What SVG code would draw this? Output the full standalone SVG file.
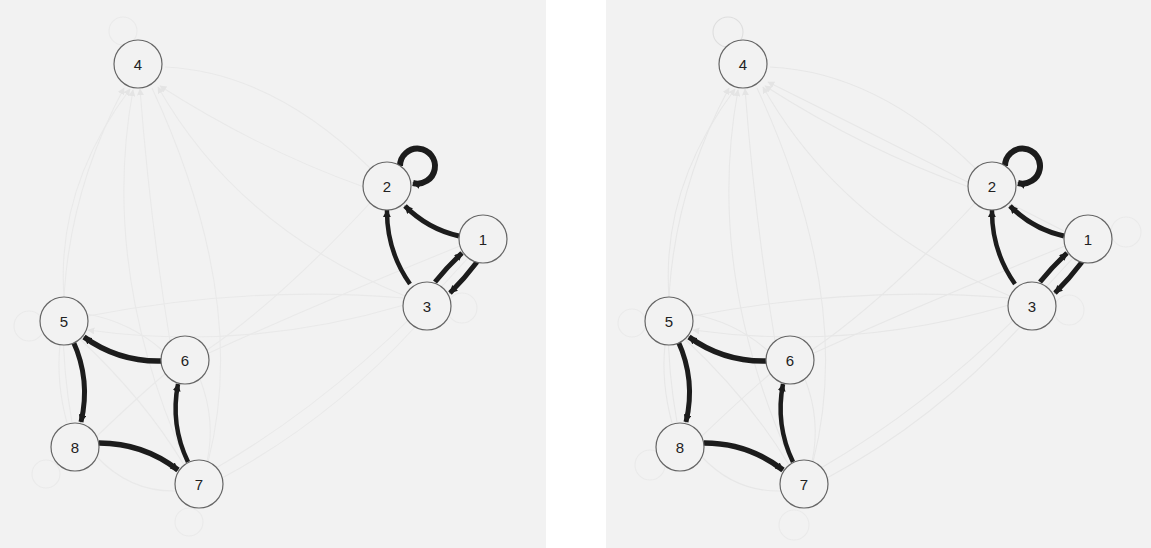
<svg xmlns="http://www.w3.org/2000/svg" width="1151" height="548" viewBox="0 0 1151 548">
<style>
.bg{fill:#f2f2f2}
.node circle{fill:#f2f2f2;stroke:#666;stroke-width:1.2}
.node text{font-family:"Liberation Sans",Arial,sans-serif;font-size:15px;fill:#222;text-anchor:middle;dominant-baseline:central}
.faint{fill:none;stroke:#e9e9e9;stroke-width:1.1}
.floop{fill:none;stroke:#eaeaea;stroke-width:1.1}
.thick{fill:none;stroke:#1c1c1c;stroke-width:5}
#right-connectors .faint{stroke:#e7e7e7}
</style>
<defs>
<marker id="ah" viewBox="0 -5 10 10" refX="9" refY="0" markerWidth="8" markerHeight="8" markerUnits="userSpaceOnUse" orient="auto"><path d="M0,-5L10,0L0,5Z" fill="#1c1c1c"/></marker>
<marker id="fah" viewBox="0 -5 10 10" refX="9" refY="0" markerWidth="7" markerHeight="7" markerUnits="userSpaceOnUse" orient="auto"><path d="M0,-5L10,0L0,5Z" fill="#e4e4e4"/></marker>
</defs>

<rect class="bg" x="0" y="0" width="546" height="548"/>
<rect class="bg" x="606" y="0" width="545" height="548"/>

<g id="panel-left">
<g id="left-connectors">
<path class="faint" d="M64,297 Q56,188 130,89" marker-end="url(#fah)"/>
<path class="faint" d="M72,422 Q40,245 124,88" marker-end="url(#fah)"/>
<path class="faint" d="M186,462 Q100,270 133,90" marker-end="url(#fah)"/>
<path class="faint" d="M170,341 Q150,220 140,89" marker-end="url(#fah)"/>
<path class="faint" d="M152,88 Q250,300 208,462"/>
<path class="faint" d="M405,296 Q238,228 158,87" marker-end="url(#fah)"/>
<path class="faint" d="M364,187 Q260,150 160,86" marker-end="url(#fah)"/>
<path class="faint" d="M165,67 Q272,72 370,168"/>
<path class="faint" d="M404,305 Q246,352 88,330" marker-end="url(#fah)"/>
<path class="faint" d="M88,316 Q250,285 404,298"/>
<path class="faint" d="M460,246 Q326,300 209,353"/>
<path class="faint" d="M415,327 Q330,420 222,478"/>
<path class="faint" d="M468,258 Q350,390 216,468"/>
<path class="faint" d="M370,203 Q280,300 207,350"/>
<path class="faint" d="M97,436 Q140,395 165,374"/>
<path class="faint" d="M80,339 Q145,400 184,465"/>
<path class="faint" d="M67,423 Q56,382 60,345"/>
<path class="faint" d="M200,379 Q216,420 207,462"/>
<path class="faint" d="M176,491 Q130,492 97,457"/>
<path class="faint" d="M87,314 Q130,322 162,350"/>
<circle class="floop" cx="123" cy="31" r="14"/>
<circle class="floop" cx="29" cy="326" r="15"/>
<circle class="floop" cx="46" cy="474" r="14"/>
<circle class="floop" cx="189" cy="522" r="14"/>
<circle class="floop" cx="462" cy="308" r="15"/>
<path class="thick" d="M459,236 A110,110 0 0,1 405,206" marker-end="url(#ah)"/>
<path class="thick" style="stroke-width:4.5" d="M410,284 A126,126 0 0,1 387,210" marker-end="url(#ah)"/>
<path class="thick" d="M435,282 A300,300 0 0,1 462,253" marker-end="url(#ah)"/>
<path class="thick" d="M477,262 A300,300 0 0,1 450,293" marker-end="url(#ah)"/>
<path class="thick" style="stroke-width:6" d="M400,166 A17.5,17.5 0 1,1 413,183" marker-end="url(#ah)"/>
<path class="thick" style="stroke-width:5.5" d="M161,361 A127,127 0 0,1 84,337" marker-end="url(#ah)"/>
<path class="thick" d="M73,341 A125,125 0 0,1 81,422" marker-end="url(#ah)"/>
<path class="thick" style="stroke-width:5.5" d="M99,443 A129,129 0 0,1 178,470" marker-end="url(#ah)"/>
<path class="thick" style="stroke-width:4.5" d="M188,462 A125,125 0 0,1 178,384" marker-end="url(#ah)"/>
</g>
<g id="L-node-1" class="node"><circle cx="483" cy="239" r="24"/><text x="483" y="239">1</text></g>
<g id="L-node-2" class="node"><circle cx="387" cy="186" r="24"/><text x="387" y="186">2</text></g>
<g id="L-node-3" class="node"><circle cx="427" cy="306" r="24"/><text x="427" y="306">3</text></g>
<g id="L-node-4" class="node"><circle cx="138" cy="64" r="24"/><text x="138" y="64">4</text></g>
<g id="L-node-5" class="node"><circle cx="64" cy="321" r="24"/><text x="64" y="321">5</text></g>
<g id="L-node-6" class="node"><circle cx="185" cy="360" r="24"/><text x="185" y="360">6</text></g>
<g id="L-node-7" class="node"><circle cx="199" cy="484" r="24"/><text x="199" y="484">7</text></g>
<g id="L-node-8" class="node"><circle cx="75" cy="447" r="24"/><text x="75" y="447">8</text></g>
</g>

<g id="panel-right" transform="translate(605,0)">
<g id="right-connectors">
<path class="faint" d="M64,297 Q56,188 130,89" marker-end="url(#fah)"/>
<path class="faint" d="M72,422 Q40,245 124,88" marker-end="url(#fah)"/>
<path class="faint" d="M186,462 Q100,270 133,90" marker-end="url(#fah)"/>
<path class="faint" d="M170,341 Q150,220 140,89" marker-end="url(#fah)"/>
<path class="faint" d="M152,88 Q250,300 208,462"/>
<path class="faint" d="M405,296 Q238,228 158,87" marker-end="url(#fah)"/>
<path class="faint" d="M364,187 Q260,150 160,86" marker-end="url(#fah)"/>
<path class="faint" d="M461,232 Q300,150 163,82" marker-end="url(#fah)"/>
<path class="faint" d="M165,67 Q272,72 370,168"/>
<path class="faint" d="M404,305 Q246,352 88,330" marker-end="url(#fah)"/>
<path class="faint" d="M88,316 Q250,285 404,298"/>
<path class="faint" d="M460,246 Q326,300 209,353"/>
<path class="faint" d="M415,327 Q330,420 222,478"/>
<path class="faint" d="M468,258 Q350,390 216,468"/>
<path class="faint" d="M370,203 Q280,300 207,350"/>
<path class="faint" d="M97,436 Q140,395 165,374"/>
<path class="faint" d="M80,339 Q145,400 184,465"/>
<path class="faint" d="M67,423 Q56,382 60,345"/>
<path class="faint" d="M200,379 Q216,420 207,462"/>
<path class="faint" d="M176,491 Q130,492 97,457"/>
<path class="faint" d="M87,314 Q130,322 162,350"/>
<circle class="floop" style="stroke:#dedede" cx="123" cy="32" r="15"/>
<circle class="floop" cx="27" cy="323" r="14"/>
<circle class="floop" cx="45" cy="465" r="15"/>
<circle class="floop" cx="189" cy="525" r="15"/>
<circle class="floop" cx="464" cy="310" r="15"/>
<circle class="floop" cx="521" cy="232" r="15"/>
<path class="thick" d="M459,236 A110,110 0 0,1 405,206" marker-end="url(#ah)"/>
<path class="thick" style="stroke-width:4.5" d="M410,284 A126,126 0 0,1 387,210" marker-end="url(#ah)"/>
<path class="thick" d="M435,282 A300,300 0 0,1 462,253" marker-end="url(#ah)"/>
<path class="thick" d="M477,262 A300,300 0 0,1 450,293" marker-end="url(#ah)"/>
<path class="thick" style="stroke-width:6" d="M400,166 A17.5,17.5 0 1,1 413,183" marker-end="url(#ah)"/>
<path class="thick" style="stroke-width:5.5" d="M161,361 A127,127 0 0,1 84,337" marker-end="url(#ah)"/>
<path class="thick" d="M73,341 A125,125 0 0,1 81,422" marker-end="url(#ah)"/>
<path class="thick" style="stroke-width:5.5" d="M99,443 A129,129 0 0,1 178,470" marker-end="url(#ah)"/>
<path class="thick" style="stroke-width:4.5" d="M188,462 A125,125 0 0,1 178,384" marker-end="url(#ah)"/>
</g>
<g id="R-node-1" class="node"><circle cx="483" cy="239" r="24"/><text x="483" y="239">1</text></g>
<g id="R-node-2" class="node"><circle cx="387" cy="186" r="24"/><text x="387" y="186">2</text></g>
<g id="R-node-3" class="node"><circle cx="427" cy="306" r="24"/><text x="427" y="306">3</text></g>
<g id="R-node-4" class="node"><circle cx="138" cy="64" r="24"/><text x="138" y="64">4</text></g>
<g id="R-node-5" class="node"><circle cx="64" cy="321" r="24"/><text x="64" y="321">5</text></g>
<g id="R-node-6" class="node"><circle cx="185" cy="360" r="24"/><text x="185" y="360">6</text></g>
<g id="R-node-7" class="node"><circle cx="199" cy="484" r="24"/><text x="199" y="484">7</text></g>
<g id="R-node-8" class="node"><circle cx="75" cy="447" r="24"/><text x="75" y="447">8</text></g>
</g>
</svg>
